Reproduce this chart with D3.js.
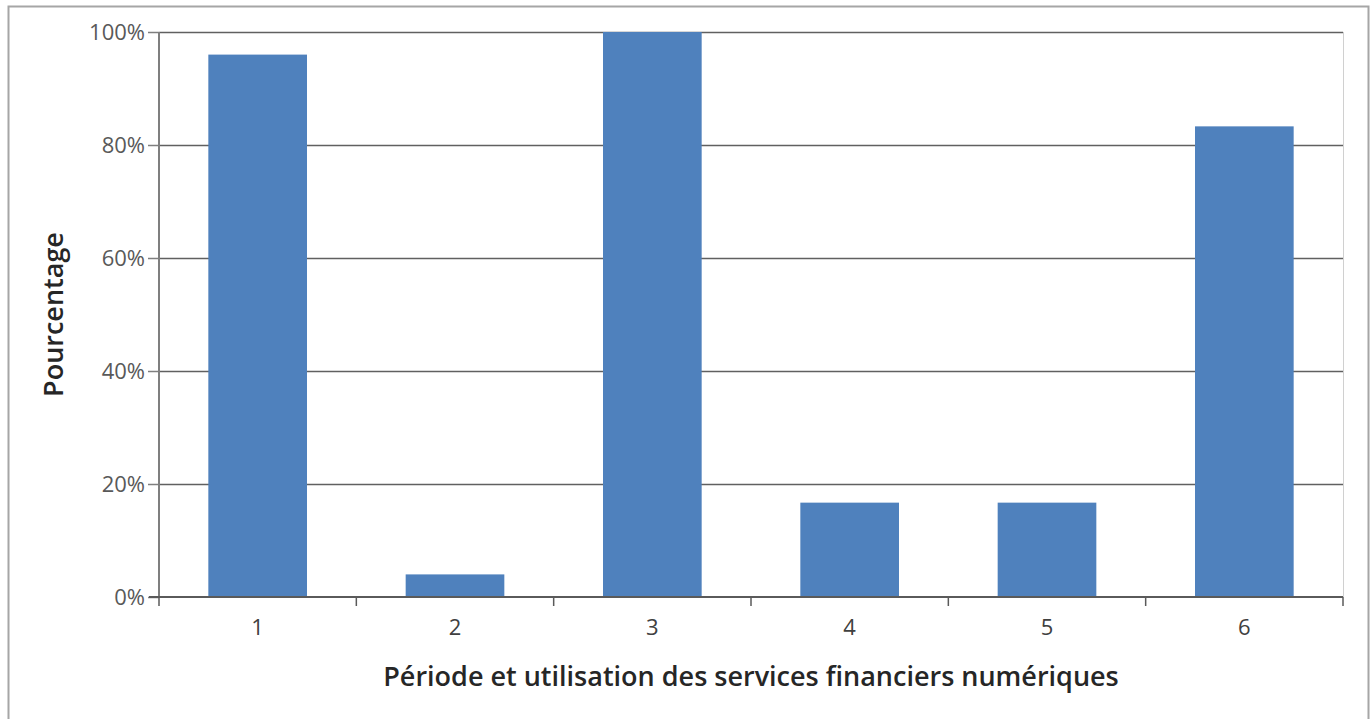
<!DOCTYPE html>
<meta charset="utf-8">
<script src="https://d3js.org/d3.v7.min.js"></script>
<style>
  body { margin: 0; background: #fff; }
  text { font-family: "Open Sans", "DejaVu Sans", sans-serif; }
</style>
<div id="my_dataviz"></div>
<script>

// data
var categories = ["1", "2", "3", "4", "5", "6"]
var values = [96, 4, 100, 16.7, 16.7, 83.3]
var yTicks = [0, 20, 40, 60, 80, 100]

var W = 1371, H = 719
var margin = {top: 32, right: 28, bottom: 122, left: 159},
    width = W - margin.left - margin.right,
    height = H - margin.top - margin.bottom

var root = d3.select("#my_dataviz")
  .append("svg")
    .attr("width", W)
    .attr("height", H)

// outer frame (bottom edge runs off the picture)
root.append("path")
  .attr("d", "M8.5," + (H + 5) + "V6.5H1368.5V" + (H + 5))
  .attr("fill", "none")
  .attr("stroke", "#a6a6a6")
  .attr("stroke-width", 2)

var svg = root.append("g")
  .attr("transform", "translate(" + margin.left + "," + margin.top + ")")

var x = d3.scaleBand()
  .domain(categories)
  .range([0, width])
  .paddingInner(0.5)
  .paddingOuter(0.25)

var y = d3.scaleLinear()
  .domain([0, 100])
  .range([height, 0])

// light plot border on the right
svg.append("line")
  .attr("x1", width + 0.5).attr("x2", width + 0.5)
  .attr("y1", 0).attr("y2", height)
  .attr("stroke", "#d0d0d0")

// gridlines
svg.selectAll(".grid")
  .data(yTicks.filter(function(d){ return d > 0 }))
  .enter()
  .append("line")
    .attr("x1", 0).attr("x2", width)
    .attr("y1", function(d){ return Math.round(y(d)) + 0.5 })
    .attr("y2", function(d){ return Math.round(y(d)) + 0.5 })
    .attr("stroke", "#606060")
    .attr("stroke-width", 1.6)

// bars
svg.selectAll(".bar")
  .data(values)
  .enter()
  .append("rect")
    .attr("x", function(d, i){ return x(categories[i]) })
    .attr("width", x.bandwidth())
    .attr("y", function(d){ return y(d) })
    .attr("height", function(d){ return height - y(d) })
    .attr("fill", "#4f81bd")

// Y axis
var yAxis = svg.append("g")
  .call(d3.axisLeft(y)
    .tickValues(yTicks)
    .tickSize(11)
    .tickPadding(3)
    .tickFormat(function(d){ return d + "%" }))
yAxis.select(".domain").attr("stroke", "#7f7f7f").attr("stroke-width", 2)
  .attr("d", "M0,0V" + height)
yAxis.selectAll(".tick line").attr("stroke", "#7f7f7f").attr("stroke-width", 1.5)
yAxis.selectAll("text")
  .attr("fill", "#595959")
  .style("font-size", "22px")

// X axis with ticks at category boundaries
var xAxis = svg.append("g")
  .attr("transform", "translate(0," + height + ")")
  .call(d3.axisBottom(x).tickSize(0).tickPadding(22))
xAxis.select(".domain").attr("stroke", "#5a5a5a").attr("stroke-width", 2)
  .attr("d", "M-10,0H" + width)
xAxis.selectAll("text")
  .attr("fill", "#404040")
  .style("font-size", "22px")

var step = width / categories.length
svg.selectAll(".xtick")
  .data(d3.range(categories.length + 1))
  .enter()
  .append("line")
    .attr("x1", function(d){ return d * step }).attr("x2", function(d){ return d * step })
    .attr("y1", height).attr("y2", height + 9)
    .attr("stroke", "#5a5a5a")
    .attr("stroke-width", 1.5)

// axis titles
svg.append("text")
  .attr("x", width / 2)
  .attr("y", height + 89)
  .attr("text-anchor", "middle")
  .attr("fill", "#262626")
  .style("font-size", "27px")
  .style("font-weight", "600")
  .text("Période et utilisation des services financiers numériques")

svg.append("text")
  .attr("transform", "translate(" + (-96) + "," + (height / 2) + ") rotate(-90)")
  .attr("text-anchor", "middle")
  .attr("fill", "#262626")
  .style("font-size", "27px")
  .style("font-weight", "600")
  .text("Pourcentage")

</script>
